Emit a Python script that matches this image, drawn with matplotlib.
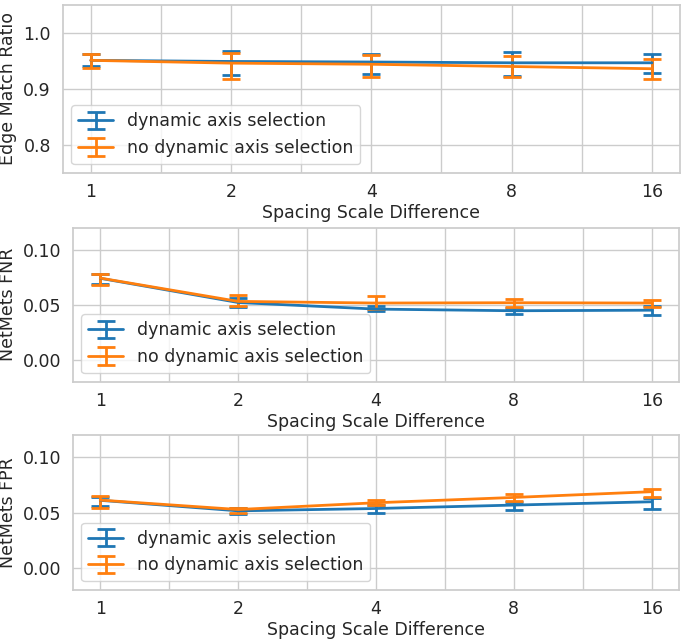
import numpy as np
import matplotlib
matplotlib.use("Agg")
import matplotlib.pyplot as plt
import seaborn as sns

spacing = [1, 2, 4, 8, 16]
labels = ["dynamic axis selection", "no dynamic axis selection"]

# edge match ratio
emr_dyn = [0.951, 0.949, 0.948, 0.9466, 0.9466]
emr_dyn_lo = [0.940, 0.925, 0.926, 0.923, 0.928]
emr_dyn_hi = [0.962, 0.967, 0.963, 0.966, 0.9626]
emr_nodyn = [0.951, 0.946, 0.944, 0.940, 0.936]
emr_nodyn_lo = [0.938, 0.918, 0.922, 0.921, 0.917]
emr_nodyn_hi = [0.963, 0.964, 0.961, 0.958, 0.954]

# netmets FNR
fnr_dyn = [0.074, 0.052, 0.046, 0.0445, 0.045]
fnr_dyn_lo = [0.069, 0.048, 0.044, 0.042, 0.041]
fnr_dyn_hi = [0.078, 0.056, 0.049, 0.047, 0.049]
fnr_nodyn = [0.0742, 0.053, 0.0515, 0.0518, 0.0515]
fnr_nodyn_lo = [0.068, 0.049, 0.046, 0.048, 0.048]
fnr_nodyn_hi = [0.078, 0.0588, 0.058, 0.055, 0.0545]

# netmets FPR
fpr_dyn = [0.061, 0.0515, 0.0536, 0.0567, 0.0597]
fpr_dyn_lo = [0.0555, 0.0488, 0.0497, 0.0527, 0.0536]
fpr_dyn_hi = [0.064, 0.054, 0.0564, 0.0597, 0.0627]
fpr_nodyn = [0.0612, 0.0527, 0.0588, 0.0636, 0.0688]
fpr_nodyn_lo = [0.0545, 0.0497, 0.0564, 0.0606, 0.0636]
fpr_nodyn_hi = [0.0645, 0.0545, 0.0612, 0.0667, 0.0712]

sns.set_theme(style="whitegrid")
plt.rcParams['font.family'] = ['DejaVu Sans']

panels = [
    ("Edge Match Ratio", (0.75, 1.05), [0.8, 0.9, 1.0], "{:.1f}",
     [(emr_dyn, emr_dyn_lo, emr_dyn_hi), (emr_nodyn, emr_nodyn_lo, emr_nodyn_hi)]),
    ("NetMets FNR", (-0.02, 0.12), [0.0, 0.05, 0.10], "{:.2f}",
     [(fnr_dyn, fnr_dyn_lo, fnr_dyn_hi), (fnr_nodyn, fnr_nodyn_lo, fnr_nodyn_hi)]),
    ("NetMets FPR", (-0.02, 0.12), [0.0, 0.05, 0.10], "{:.2f}",
     [(fpr_dyn, fpr_dyn_lo, fpr_dyn_hi), (fpr_nodyn, fpr_nodyn_lo, fpr_nodyn_hi)]),
]

# axes boxes in pixels: (left, top, right, bottom)
W, H = 685, 641
boxes = [(62.7, 5, 680, 172.7), (72.7, 227.7, 679.3, 381.7), (72.7, 435, 679.3, 590)]
fs = 12.5

fig = plt.figure(figsize=(6.85, 6.41), dpi=100)
colors = ["#1f77b4", "#ff7f0e"]
x = np.log2(spacing)

for (ylab, ylim, yticks, fmt, series), (l, t, r, b) in zip(panels, boxes):
    ax = fig.add_axes([l / W, 1 - b / H, (r - l) / W, (b - t) / H])
    for (m, lo, hi), c, lab in zip(series, colors, labels):
        m = np.array(m)
        yerr = [m - np.array(lo), np.array(hi) - m]
        ax.errorbar(x, m, yerr=yerr, color=c, lw=2, capsize=6.5, capthick=2,
                    elinewidth=2, label=lab)
    ax.set_xticks(x)
    ax.set_xticklabels([str(s) for s in spacing])
    ax.set_xticks(x[:-1] + 0.5, minor=True)
    ax.grid(True, which="both", axis="x", color=".8", lw=1)
    ax.grid(True, which="major", axis="y", color=".8", lw=1)
    ax.set_ylim(*ylim)
    ax.set_yticks(yticks)
    ax.set_yticklabels([fmt.format(v) for v in yticks])
    ax.tick_params(axis="y", labelsize=fs, colors=".15", which="both", length=0, pad=8.5)
    ax.tick_params(axis="x", labelsize=fs, colors=".15", which="both", length=0, pad=7.5)
    ax.set_xlabel("Spacing Scale Difference", fontsize=fs, color=".15", labelpad=2)
    ax.set_ylabel(ylab, fontsize=fs, color=".15")
    ax.yaxis.set_label_coords((17 - l) / (r - l), 0.5)
    ax.legend(loc="lower left", fontsize=fs)

fig.savefig("out.png", dpi=100)
